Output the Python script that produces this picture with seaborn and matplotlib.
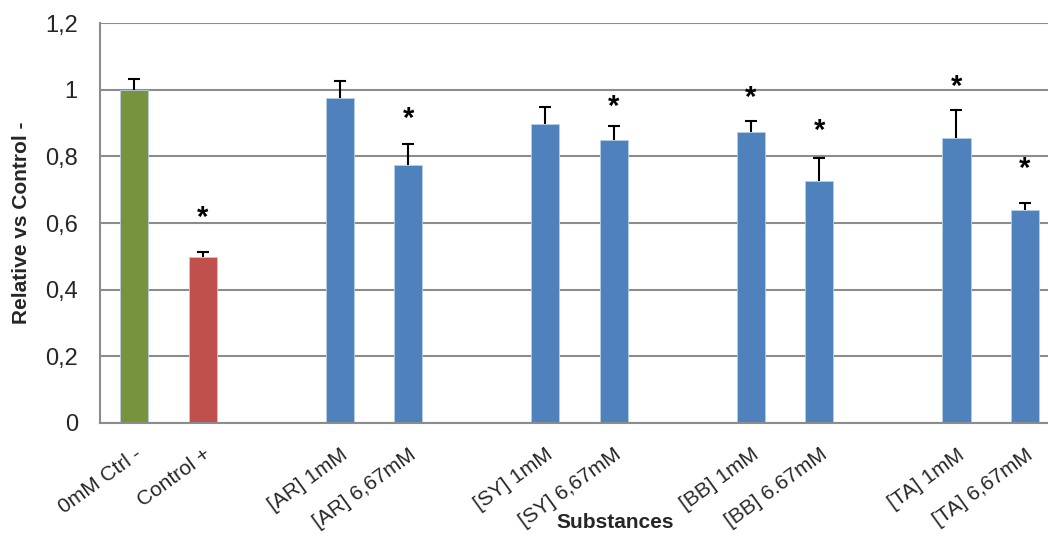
import matplotlib
matplotlib.use("Agg")
import matplotlib.pyplot as plt
import seaborn as sns
import pandas as pd

# data
labels = ["0mM Ctrl -", "Control +", "[AR] 1mM", "[AR] 6,67mM", "[SY] 1mM",
          "[SY] 6,67mM", "[BB] 1mM", "[BB] 6.67mM", "[TA] 1mM", "[TA] 6,67mM"]
values = [1.0, 0.499, 0.975, 0.774, 0.898, 0.849, 0.873, 0.727, 0.855, 0.639]
errors = [0.033, 0.015, 0.052, 0.063, 0.050, 0.043, 0.033, 0.069, 0.085, 0.020]
significant = [False, True, False, True, False, True, True, True, True, True]
star_heights = [None, 0.636, None, 0.932, None, 0.970, 0.995, 0.897, 1.028, 0.781]
bar_colors = ["#77933C", "#C0504D"] + ["#4F81BD"] * 8

# empty slots between groups, as in the original
order = [labels[0], labels[1], " ", labels[2], labels[3], "  ",
         labels[4], labels[5], "   ", labels[6], labels[7], "    ",
         labels[8], labels[9]]

df = pd.DataFrame({"substance": labels, "value": values})

sns.set_style("white")
plt.rcParams["font.family"] = ["Liberation Sans", "DejaVu Sans"]

fig = plt.figure(figsize=(10.48, 5.35), dpi=100)
ax = fig.add_axes([100 / 1048, 0.2099, 1 - 100 / 1048, 0.7465])

sns.barplot(data=df, x="substance", y="value", order=order, hue="substance",
            palette=dict(zip(labels, bar_colors)), legend=False,
            width=0.41, saturation=1, edgecolor="#B9CDE5", linewidth=0.6,
            ax=ax, zorder=3)

# one-sided (upper) error bars with a cap only at the top
pos = [order.index(l) for l in labels]
tops = [v + e for v, e in zip(values, errors)]
ax.vlines(pos, values, tops, color="black", linewidth=1.5, zorder=4)
ax.plot(pos, tops, linestyle="none", marker="_", markersize=8,
        markeredgewidth=1.5, color="black", zorder=4)

for p, sig, h in zip(pos, significant, star_heights):
    if sig:
        ax.text(p, h - 0.02, "*", ha="center", va="center", fontsize=21,
                fontweight="bold", color="black", zorder=5)

ax.set_ylim(0, 1.2)
ax.set_xlim(-0.5, 13.336)
ax.set_yticks([0, 0.2, 0.4, 0.6, 0.8, 1.0, 1.2])
ax.set_yticklabels(["0", "0,2", "0,4", "0,6", "0,8", "1", "1,2"], fontsize=17)
ax.set_xticks(pos)
ax.set_xticklabels(labels, rotation=36, ha="right", rotation_mode="anchor",
                   fontsize=15)
ax.tick_params(axis="x", length=0, pad=16)
ax.tick_params(axis="y", length=6, width=1.5, color="#8C8C8C", pad=10)

ax.yaxis.grid(True, color="#8C8C8C", linewidth=1.5, zorder=0)
ax.set_axisbelow(True)
for side in ["top", "right"]:
    ax.spines[side].set_visible(False)
for side in ["left", "bottom"]:
    ax.spines[side].set_color("#8C8C8C")
    ax.spines[side].set_linewidth(1.5)
    ax.spines[side].set_zorder(6)

ax.set_xlabel("")
ax.set_ylabel("Relative vs Control -", fontsize=15, fontweight="bold", labelpad=10)
fig.text(615 / 1048, 1 - 522 / 535, "Substances", ha="center", va="center",
         fontsize=15, fontweight="bold")

fig.savefig("out.png", dpi=100)
